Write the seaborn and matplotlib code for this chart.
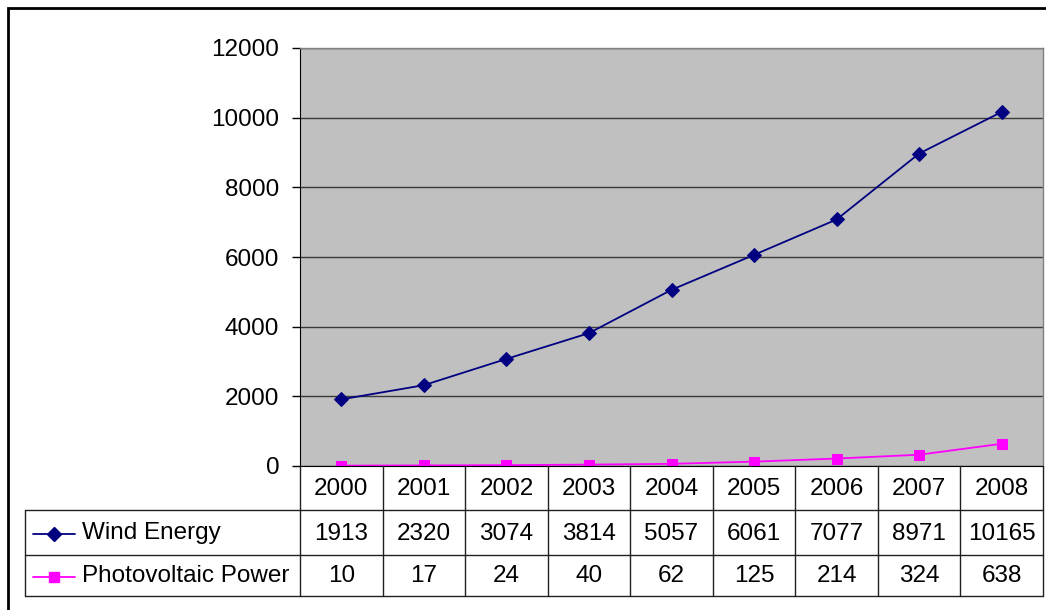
import numpy as np
import pandas as pd
import matplotlib
matplotlib.use("Agg")
import matplotlib.pyplot as plt
import matplotlib.transforms as mtransforms
from matplotlib.lines import Line2D
from matplotlib.patches import Rectangle
import seaborn as sns

years = [2000, 2001, 2002, 2003, 2004, 2005, 2006, 2007, 2008]
wind_energy = [1913, 2320, 3074, 3814, 5057, 6061, 7077, 8971, 10165]
photovoltaic = [10, 17, 24, 40, 62, 125, 214, 324, 638]
series_names = ["Wind Energy", "Photovoltaic Power"]
y_ticks = [0, 2000, 4000, 6000, 8000, 10000, 12000]

colors = {"Wind Energy": "#000080", "Photovoltaic Power": "#FF00FF"}
markers = {"Wind Energy": "D", "Photovoltaic Power": "s"}
msizes = {"Wind Energy": 7.5, "Photovoltaic Power": 7}

sns.set_style("white")
plt.rcParams["font.family"] = ["Liberation Sans", "DejaVu Sans"]
plt.rcParams["text.color"] = "black"
plt.rcParams["ytick.color"] = "black"
plt.rcParams["ytick.labelcolor"] = "black"
FS = 17.5

W, H = 1046, 610
fig = plt.figure(figsize=(W / 100, H / 100), dpi=100)

# plot area in pixels
L, R, T, B = 300, 1043, 48, 466
ax = fig.add_axes([L / W, 1 - B / H, (R - L) / W, (B - T) / H])

df = pd.DataFrame({
    "year": years * 2,
    "value": wind_energy + photovoltaic,
    "series": [series_names[0]] * len(years) + [series_names[1]] * len(years),
})

for name in series_names:
    sub = df[df["series"] == name]
    sns.lineplot(data=sub, x="year", y="value", ax=ax, color=colors[name],
                 marker=markers[name], markersize=msizes[name],
                 markeredgecolor=colors[name], linewidth=1.3, legend=False)

ax.set_facecolor("#C0C0C0")
ax.set_xlim(years[0] - 0.5, years[-1] + 0.5)
ax.set_ylim(0, 12000)
ax.set_yticks(y_ticks)
ax.set_yticklabels([str(t) for t in y_ticks], fontsize=FS, color="black")
ax.set_xticks([])
ax.set_xlabel("")
ax.set_ylabel("")
ax.yaxis.grid(True, color="#3a3a3a", linewidth=1)
ax.set_axisbelow(True)
ax.tick_params(axis="y", left=True, length=6, width=1, color="black", pad=9)
for side in ["top", "right"]:
    ax.spines[side].set_color("#808080")
    ax.spines[side].set_linewidth(1)
ax.spines["left"].set_color("black")
ax.spines["bottom"].set_color("black")

# data table under the plot
fy = lambda py: 1 - py / H
fx = lambda px: px / W
blend = mtransforms.blended_transform_factory(ax.transData, fig.transFigure)
line_c = "#202020"
rows_y = [466, 510, 555, 596]
left_x = 25

bounds = [y - 0.5 for y in years] + [years[-1] + 0.5]
for b in bounds:
    fig.add_artist(Line2D([b, b], [fy(rows_y[0]), fy(rows_y[3])], transform=blend,
                          color=line_c, lw=1))
for ry in rows_y[1:]:
    fig.add_artist(Line2D([fx(left_x), fx(R)], [fy(ry), fy(ry)],
                          transform=fig.transFigure, color=line_c, lw=1))
fig.add_artist(Line2D([fx(left_x), fx(left_x)], [fy(rows_y[1]), fy(rows_y[3])],
                      transform=fig.transFigure, color=line_c, lw=1))

row_centers = [(rows_y[i] + rows_y[i + 1]) / 2 + 1 for i in range(3)]
for i, yr in enumerate(years):
    fig.text(yr, fy(row_centers[0]), str(yr), transform=blend, ha="center",
             va="center", fontsize=FS)
    fig.text(yr, fy(row_centers[1]), str(wind_energy[i]), transform=blend,
             ha="center", va="center", fontsize=FS)
    fig.text(yr, fy(row_centers[2]), str(photovoltaic[i]), transform=blend,
             ha="center", va="center", fontsize=FS)

# legend keys in the row labels
for name, rc in zip(series_names, row_centers[1:]):
    fig.add_artist(Line2D([fx(33), fx(75)], [fy(rc), fy(rc)], transform=fig.transFigure,
                          color=colors[name], lw=1.3))
    fig.add_artist(Line2D([fx(54)], [fy(rc)], transform=fig.transFigure,
                          color=colors[name], marker=markers[name],
                          markersize=msizes[name], markeredgecolor=colors[name]))
    fig.text(fx(82), fy(rc), name, ha="left", va="center", fontsize=FS)

# outer chart border
fig.add_artist(Rectangle((fx(8), -0.1), 1.2, fy(8) + 0.1, transform=fig.transFigure,
                         fill=False, edgecolor="black", lw=2))

fig.savefig("out.png", dpi=100)
